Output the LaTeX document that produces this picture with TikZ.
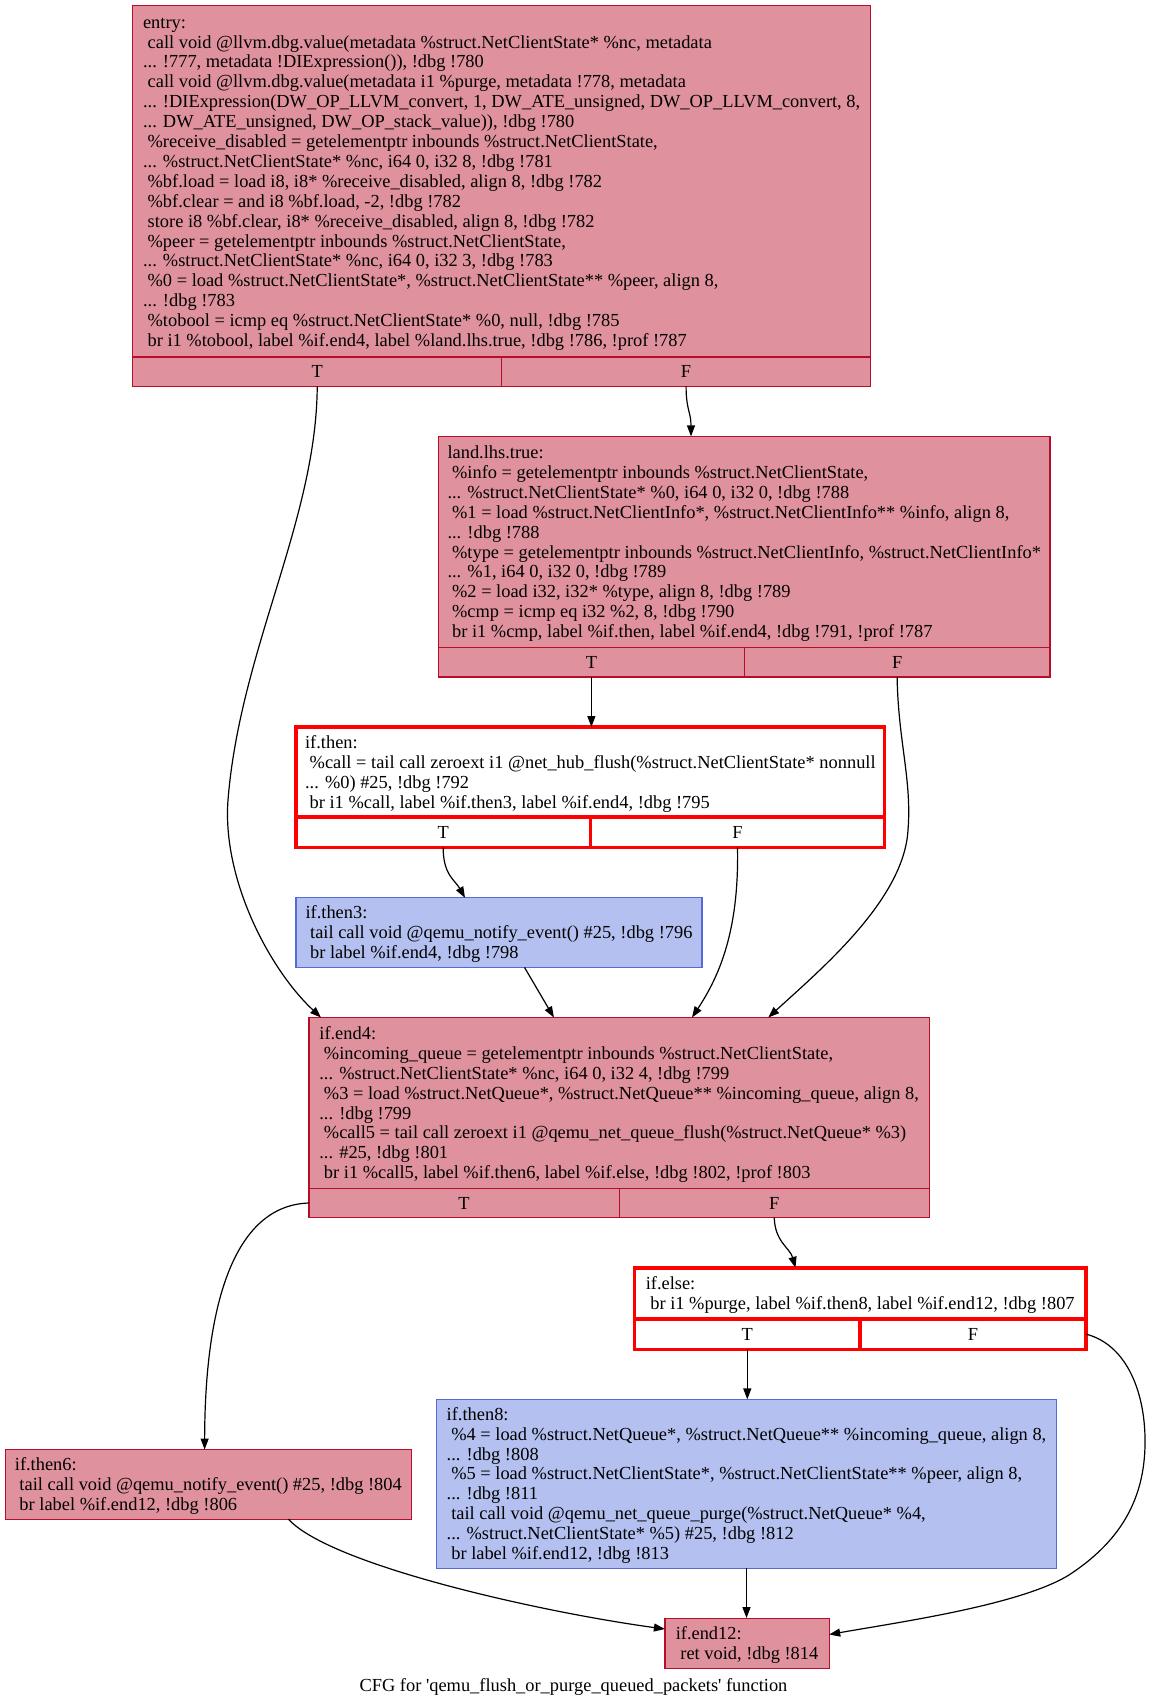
\documentclass[tikz,border=0pt]{standalone}
\usepackage{fontspec}
\setmainfont{Liberation Serif}
\usetikzlibrary{arrows.meta,calc}

\definecolor{cfgpink}{RGB}{223,146,157}
\definecolor{cfgpinkline}{RGB}{183,13,40}
\definecolor{cfgblue}{RGB}{180,193,240}
\definecolor{cfgblueline}{RGB}{85,105,215}
\definecolor{cfgred}{RGB}{255,0,0}

\newcommand\codefont{\fontsize{18.4}{19.9}\selectfont}
\newcommand\indsp{\hspace*{.25em}}
% taller strut on the first line lowers the text block slightly
\newcommand\topstrut{\rule{0pt}{18.3pt}}

\tikzset{
  blk/.style={rectangle, draw, anchor=north west, inner sep=0pt, outer sep=0pt,
              align=left, font=\codefont},
  pinkblk/.style={blk, fill=cfgpink, draw=cfgpinkline, line width=1.2pt},
  blueblk/.style={blk, fill=cfgblue, draw=cfgblueline, line width=1.2pt},
  redblk/.style={blk, fill=white, draw=cfgred, line width=3.5pt},
  edge/.style={draw=black, line width=1.2pt, -{Triangle[length=11pt,width=8pt]}},
}

\begin{document}
\begin{tikzpicture}[x=1pt, y=-1pt]
\path[use as bounding box] (0,0) rectangle (1148,1707);

% ---------- entry ----------
\node[pinkblk, minimum width=737.7pt, minimum height=351.5pt] (entry) at (132.8,5.4) {%
\topstrut entry:\\
\indsp call void @llvm.dbg.value(metadata \%struct.NetClientState* \%nc, metadata\\
... !777, metadata !DIExpression()), !dbg !780\\
\indsp call void @llvm.dbg.value(metadata i1 \%purge, metadata !778, metadata\\
... !DIExpression(DW\_OP\_LLVM\_convert, 1, DW\_ATE\_unsigned, DW\_OP\_LLVM\_convert, 8,\\
... DW\_ATE\_unsigned, DW\_OP\_stack\_value)), !dbg !780\\
\indsp\%receive\_disabled = getelementptr inbounds \%struct.NetClientState,\\
... \%struct.NetClientState* \%nc, i64 0, i32 8, !dbg !781\\
\indsp\%bf.load = load i8, i8* \%receive\_disabled, align 8, !dbg !782\\
\indsp\%bf.clear = and i8 \%bf.load, -2, !dbg !782\\
\indsp store i8 \%bf.clear, i8* \%receive\_disabled, align 8, !dbg !782\\
\indsp\%peer = getelementptr inbounds \%struct.NetClientState,\\
... \%struct.NetClientState* \%nc, i64 0, i32 3, !dbg !783\\
\indsp\%0 = load \%struct.NetClientState*, \%struct.NetClientState** \%peer, align 8,\\
... !dbg !783\\
\indsp\%tobool = icmp eq \%struct.NetClientState* \%0, null, !dbg !785\\
\indsp br i1 \%tobool, label \%if.end4, label \%land.lhs.true, !dbg !786, !prof !787\strut};
\node[pinkblk, minimum width=368.85pt, minimum height=29.4pt] (entryT) at (entry.south west) {T};
\node[pinkblk, minimum width=368.85pt, minimum height=29.4pt] (entryF) at (entryT.north east) {F};

% ---------- land.lhs.true ----------
\node[pinkblk, minimum width=611.5pt, minimum height=211.1pt] (land) at (438.5,436.4) {%
\topstrut land.lhs.true:\\
\indsp\%info = getelementptr inbounds \%struct.NetClientState,\\
... \%struct.NetClientState* \%0, i64 0, i32 0, !dbg !788\\
\indsp\%1 = load \%struct.NetClientInfo*, \%struct.NetClientInfo** \%info, align 8,\\
... !dbg !788\\
\indsp\%type = getelementptr inbounds \%struct.NetClientInfo, \%struct.NetClientInfo*\\
... \%1, i64 0, i32 0, !dbg !789\\
\indsp\%2 = load i32, i32* \%type, align 8, !dbg !789\\
\indsp\%cmp = icmp eq i32 \%2, 8, !dbg !790\\
\indsp br i1 \%cmp, label \%if.then, label \%if.end4, !dbg !791, !prof !787\strut};
\node[pinkblk, minimum width=305.75pt, minimum height=29.4pt] (landT) at (land.south west) {T};
\node[pinkblk, minimum width=305.75pt, minimum height=29.4pt] (landF) at (landT.north east) {F};

% ---------- if.then ----------
\node[redblk, minimum width=588.7pt, minimum height=90.2pt] (ifthen) at (296,727) {%
\topstrut if.then:\\
\indsp\%call = tail call zeroext i1 @net\_hub\_flush(\%struct.NetClientState* nonnull\\
... \%0) \#25, !dbg !792\\
\indsp br i1 \%call, label \%if.then3, label \%if.end4, !dbg !795\strut};
\node[redblk, minimum width=294.35pt, minimum height=30.5pt] (ifthenT) at (ifthen.south west) {T};
\node[redblk, minimum width=294.35pt, minimum height=30.5pt] (ifthenF) at (ifthenT.north east) {F};

% ---------- if.then3 ----------
\node[blueblk, minimum width=406pt, minimum height=69.6pt] (then3) at (296,897.8) {%
\topstrut if.then3:\\
\indsp tail call void @qemu\_notify\_event() \#25, !dbg !796\\
\indsp br label \%if.end4, !dbg !798\strut};

% ---------- if.end4 ----------
\node[pinkblk, minimum width=620.3pt, minimum height=170.8pt] (end4) at (309,1017.5) {%
\topstrut if.end4:\\
\indsp\%incoming\_queue = getelementptr inbounds \%struct.NetClientState,\\
... \%struct.NetClientState* \%nc, i64 0, i32 4, !dbg !799\\
\indsp\%3 = load \%struct.NetQueue*, \%struct.NetQueue** \%incoming\_queue, align 8,\\
... !dbg !799\\
\indsp\%call5 = tail call zeroext i1 @qemu\_net\_queue\_flush(\%struct.NetQueue* \%3)\\
... \#25, !dbg !801\\
\indsp br i1 \%call5, label \%if.then6, label \%if.else, !dbg !802, !prof !803\strut};
\node[pinkblk, minimum width=310.15pt, minimum height=29.4pt] (end4T) at (end4.south west) {T};
\node[pinkblk, minimum width=310.15pt, minimum height=29.4pt] (end4F) at (end4T.north east) {F};

% ---------- if.else ----------
\node[redblk, minimum width=451.6pt, minimum height=51.1pt] (ifelse) at (634.4,1267.8) {%
\topstrut if.else:\\
\indsp br i1 \%purge, label \%if.then8, label \%if.end12, !dbg !807\strut};
\node[redblk, minimum width=225.8pt, minimum height=30.4pt] (ifelseT) at (ifelse.south west) {T};
\node[redblk, minimum width=225.8pt, minimum height=30.4pt] (ifelseF) at (ifelseT.north east) {F};

% ---------- if.then6 ----------
\node[pinkblk, minimum width=405.9pt, minimum height=69.6pt] (then6) at (5.4,1449.5) {%
\topstrut if.then6:\\
\indsp tail call void @qemu\_notify\_event() \#25, !dbg !804\\
\indsp br label \%if.end12, !dbg !806\strut};

% ---------- if.then8 ----------
\node[blueblk, minimum width=620.2pt, minimum height=168.7pt] (then8) at (436.4,1399.4) {%
\topstrut if.then8:\\
\indsp\%4 = load \%struct.NetQueue*, \%struct.NetQueue** \%incoming\_queue, align 8,\\
... !dbg !808\\
\indsp\%5 = load \%struct.NetClientState*, \%struct.NetClientState** \%peer, align 8,\\
... !dbg !811\\
\indsp tail call void @qemu\_net\_queue\_purge(\%struct.NetQueue* \%4,\\
... \%struct.NetClientState* \%5) \#25, !dbg !812\\
\indsp br label \%if.end12, !dbg !813\strut};

% ---------- if.end12 ----------
\node[pinkblk, minimum width=164.3pt, minimum height=50.1pt] (end12) at (664.9,1618.1) {%
\topstrut if.end12:\\
\indsp ret void, !dbg !814\strut};

% ---------- caption ----------
\node[font=\codefont, anchor=base] (caption) at (573.5,1691.7)
  {CFG for \textquotesingle qemu\_flush\_or\_purge\_queued\_packets\textquotesingle{} function};

% ---------- control-flow edges ----------
\draw[edge] (entryT.south) .. controls (316.5,520) and (240,650) .. (228,800)
            .. controls (222,880) and (270,970) .. ($(end4.north west)+(12,0)$);
\draw[edge] (entryF.south) .. controls (686.1,410) and (691,412) .. ($(land.north west)+(252.5,0)$);
\draw[edge] (landT.south) -- (landT.south |- ifthen.north);
\draw[edge] (landF.south) .. controls (898,740) and (912,780) .. (908,830)
            .. controls (904,900) and (820,970) .. ($(end4.north west)+(459.3,0)$);
\draw[edge] (ifthenT.south) .. controls (443.2,875) and (455,880) .. ($(then3.north west)+(169,0)$);
\draw[edge] (ifthenF.south) .. controls (739,930) and (720,975) .. ($(end4.north west)+(383,0)$);
\draw[edge] ($(then3.south west)+(228.5,0)$) -- ($(end4.north west)+(244.9,0)$);
\draw[edge] (end4T.west) .. controls (240,1205) and (205,1290) .. ($(then6.north west)+(199.2,0)$);
\draw[edge] (end4F.south) .. controls (775,1242) and (790,1248) .. ($(ifelse.north west)+(161.1,0)$);
\draw[edge] (ifelseT.south) -- (ifelseT.south |- then8.north);
\draw[edge] (ifelseF.east) .. controls (1128,1345) and (1146,1395) .. (1145,1445)
            .. controls (1144,1510) and (1110,1548) .. (1069,1575)
            .. controls (1020,1605) and (900,1622) .. ($(end12.north east)+(0,16.4)$);
\draw[edge] ($(then6.south west)+(283,0)$) .. controls (330,1565) and (540,1612) .. ($(end12.north west)+(0,10.9)$);
\draw[edge] (then8.south) -- (then8.south |- end12.north);
\end{tikzpicture}
\end{document}
